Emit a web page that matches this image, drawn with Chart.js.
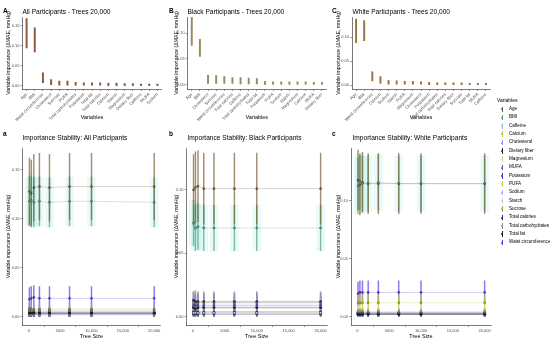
<!DOCTYPE html>
<html>
<head>
<meta charset="utf-8">
<script src="https://cdn.jsdelivr.net/npm/chart.js@4.4.1/dist/chart.umd.min.js"></script>
<style>
  html, body { margin: 0; padding: 0; background: #fff; }
  #fig { position: relative; width: 550px; height: 341px; overflow: hidden; font-family: 'Liberation Sans', Arial, sans-serif; }
  #fig canvas { position: absolute; }
  .tag { position: absolute; font-weight: bold; font-size: 6.5px; line-height: 1; color: #000; }
  .ttl { position: absolute; font-size: 6.6px; line-height: 1; color: #000; white-space: nowrap; }
  #legend { position: absolute; left: 497px; top: 97px; color: #000; }
  #legend .head { font-size: 5px; line-height: 6px; margin-bottom: 2px; }
  #legend .item { position: relative; height: 8.33px; font-size: 4.6px; line-height: 8.33px; white-space: nowrap; padding-left: 12px; }
  #legend .bar { position: absolute; left: 4.5px; top: 1.5px; width: 0.9px; height: 5.5px; }
  #legend .dot { position: absolute; left: 3.9px; top: 3.4px; width: 2.1px; height: 2.1px; border-radius: 50%; }
</style>
</head>
<body>
<div id="fig">
  <canvas id="rankAll" width="172" height="124" style="left:0px;top:0px"></canvas>
  <canvas id="rankBlack" width="172" height="124" style="left:168px;top:0px"></canvas>
  <canvas id="rankWhite" width="170" height="124" style="left:330px;top:0px"></canvas>
  <canvas id="stabAll" width="172" height="217" style="left:0px;top:124px"></canvas>
  <canvas id="stabBlack" width="172" height="217" style="left:168px;top:124px"></canvas>
  <canvas id="stabWhite" width="170" height="217" style="left:330px;top:124px"></canvas>

  <div class="tag" style="left:3px;top:8px">A</div>
  <div class="tag" style="left:169px;top:8px">B</div>
  <div class="tag" style="left:332px;top:8px">C</div>
  <div class="tag" style="left:3px;top:131px">a</div>
  <div class="tag" style="left:169px;top:131px">b</div>
  <div class="tag" style="left:332px;top:131px">c</div>

  <div class="ttl" style="left:22.5px;top:8.5px">All Participants - Trees 20,000</div>
  <div class="ttl" style="left:187.5px;top:8.5px">Black Participants - Trees 20,000</div>
  <div class="ttl" style="left:352.5px;top:8.5px">White Participants - Trees 20,000</div>
  <div class="ttl" style="left:22.5px;top:134.5px">Importance Stability: All Participants</div>
  <div class="ttl" style="left:187.5px;top:134.5px">Importance Stability: Black Participants</div>
  <div class="ttl" style="left:352.5px;top:134.5px">Importance Stability: White Participants</div>

  <div id="legend"></div>
</div>

<script>
// legend order
const variables = ['Age', 'BMI', 'Caffeine', 'Calcium', 'Cholesterol', 'Dietary fiber', 'Magnesium',
  'MUFA', 'Potassium', 'PUFA', 'Sodium', 'Starch', 'Sucrose', 'Total calories',
  'Total carbohydrates', 'Total fat', 'Waist circumference'];
const varColors = ['#7a5f35', '#5c9c86', '#a6b8ea', '#bfc233', '#8f8fe8', '#2c2c48', '#e0d8a4',
  '#5656e6', '#3a3ad4', '#e0d23e', '#adadf2', '#d0d0f4', '#a8a83c', '#2828a6',
  '#9090b4', '#1e1e1e', '#5a3ce2'];

// top row: ranked importance at 20,000 trees (low / high)
const allOrder = ['Age', 'BMI', 'Waist circumference', 'Cholesterol', 'Sucrose', 'PUFA',
  'Total carbohydrates', 'Potassium', 'Total fat', 'Total calories', 'Calcium', 'Starch',
  'Magnesium', 'Dietary fiber', 'Caffeine', 'MUFA', 'Sodium'];
const allLow = [0.095, 0.085, 0.008, 0.003, 0.002, 0.002, 0.002, 0.002, 0.002, 0.002, 0.001, 0.001, 0.001, 0.001, 0.001, 0.001, 0.001];
const allHigh = [0.168, 0.145, 0.033, 0.016, 0.012, 0.012, 0.009, 0.008, 0.008, 0.008, 0.007, 0.007, 0.006, 0.006, 0.005, 0.005, 0.005];

const blackOrder = ['Age', 'BMI', 'Cholesterol', 'Sucrose', 'Waist circumference', 'Total calories',
  'Caffeine', 'Total carbohydrates', 'Total fat', 'Potassium', 'PUFA', 'Sodium', 'Starch',
  'Magnesium', 'Calcium', 'MUFA', 'Dietary fiber'];
const blackLow = [0.076, 0.055, 0.003, 0.003, 0.003, 0.003, 0.002, 0.002, 0.002, 0.001, 0.001, 0.001, 0.001, 0.001, 0.001, 0.001, 0.001];
const blackHigh = [0.132, 0.088, 0.019, 0.018, 0.016, 0.014, 0.014, 0.013, 0.012, 0.007, 0.006, 0.006, 0.006, 0.006, 0.006, 0.005, 0.005];

const whiteOrder = ['Age', 'BMI', 'Waist circumference', 'Calcium', 'Sodium', 'Starch', 'PUFA',
  'Magnesium', 'Cholesterol', 'Potassium', 'Total carbohydrates', 'Total calories',
  'Dietary fiber', 'Sucrose', 'Total fat', 'MUFA', 'Caffeine'];
const whiteLow = [0.089, 0.093, 0.009, 0.004, 0.002, 0.002, 0.002, 0.002, 0.002, 0.001, 0.001, 0.001, 0.001, 0.001, 0.001, 0.001, 0.001];
const whiteHigh = [0.138, 0.135, 0.028, 0.018, 0.010, 0.009, 0.008, 0.008, 0.007, 0.006, 0.005, 0.005, 0.005, 0.005, 0.004, 0.004, 0.004];

// bottom row: mean importance by number of trees
const treeSizes = [100, 400, 800, 1700, 3300, 6500, 10000, 20000];
const treeTicks = [0, 5000, 10000, 15000, 20000];
const importanceTicks = [0, 0.05, 0.10, 0.15];

const allMeans = {
  'Age': [0.128, 0.126, 0.132, 0.133, 0.132, 0.133, 0.133, 0.133],
  'BMI': [0.118, 0.119, 0.117, 0.118, 0.117, 0.118, 0.118, 0.117],
  'Caffeine': [0.003, 0.003, 0.003, 0.003, 0.003, 0.003, 0.003, 0.003],
  'Calcium': [0.004, 0.004, 0.004, 0.004, 0.004, 0.004, 0.004, 0.004],
  'Cholesterol': [0.009, 0.008, 0.008, 0.008, 0.008, 0.008, 0.008, 0.008],
  'Dietary fiber': [0.003, 0.003, 0.003, 0.003, 0.003, 0.003, 0.003, 0.003],
  'Magnesium': [0.003, 0.004, 0.003, 0.003, 0.003, 0.003, 0.003, 0.003],
  'MUFA': [0.003, 0.003, 0.002, 0.003, 0.003, 0.003, 0.003, 0.003],
  'Potassium': [0.004, 0.005, 0.004, 0.004, 0.004, 0.004, 0.004, 0.004],
  'PUFA': [0.006, 0.006, 0.006, 0.006, 0.006, 0.006, 0.006, 0.006],
  'Sodium': [0.002, 0.002, 0.002, 0.002, 0.002, 0.002, 0.002, 0.002],
  'Starch': [0.004, 0.003, 0.004, 0.004, 0.004, 0.004, 0.004, 0.004],
  'Sucrose': [0.006, 0.007, 0.006, 0.006, 0.006, 0.006, 0.006, 0.006],
  'Total calories': [0.004, 0.004, 0.005, 0.004, 0.004, 0.004, 0.004, 0.004],
  'Total carbohydrates': [0.005, 0.005, 0.005, 0.005, 0.005, 0.005, 0.005, 0.005],
  'Total fat': [0.004, 0.004, 0.004, 0.004, 0.004, 0.004, 0.004, 0.004],
  'Waist circumference': [0.018, 0.019, 0.020, 0.019, 0.019, 0.019, 0.019, 0.019]
};
const allSpread = [0.034, 0.025, 0.002, 0.003, 0.006, 0.003, 0.003, 0.002, 0.004, 0.005, 0.002, 0.003, 0.005, 0.004, 0.004, 0.004, 0.012];

const blackMeans = {
  'Age': [0.100, 0.102, 0.103, 0.101, 0.101, 0.101, 0.101, 0.101],
  'BMI': [0.074, 0.070, 0.071, 0.070, 0.070, 0.070, 0.070, 0.070],
  'Caffeine': [0.008, 0.008, 0.008, 0.008, 0.008, 0.008, 0.008, 0.008],
  'Calcium': [0.003, 0.003, 0.003, 0.003, 0.003, 0.003, 0.003, 0.003],
  'Cholesterol': [0.012, 0.011, 0.011, 0.011, 0.011, 0.011, 0.011, 0.011],
  'Dietary fiber': [0.002, 0.002, 0.002, 0.002, 0.002, 0.002, 0.002, 0.002],
  'Magnesium': [0.003, 0.003, 0.003, 0.003, 0.003, 0.003, 0.003, 0.003],
  'MUFA': [0.002, 0.002, 0.002, 0.002, 0.002, 0.002, 0.002, 0.002],
  'Potassium': [0.004, 0.004, 0.004, 0.004, 0.004, 0.004, 0.004, 0.004],
  'PUFA': [0.003, 0.003, 0.003, 0.003, 0.003, 0.003, 0.003, 0.003],
  'Sodium': [0.003, 0.003, 0.003, 0.003, 0.003, 0.003, 0.003, 0.003],
  'Starch': [0.003, 0.003, 0.003, 0.003, 0.003, 0.003, 0.003, 0.003],
  'Sucrose': [0.011, 0.012, 0.011, 0.011, 0.011, 0.011, 0.011, 0.011],
  'Total calories': [0.013, 0.012, 0.012, 0.012, 0.012, 0.012, 0.012, 0.012],
  'Total carbohydrates': [0.007, 0.007, 0.007, 0.007, 0.007, 0.007, 0.007, 0.007],
  'Total fat': [0.007, 0.006, 0.007, 0.007, 0.007, 0.007, 0.007, 0.007],
  'Waist circumference': [0.009, 0.009, 0.009, 0.009, 0.009, 0.009, 0.009, 0.009]
};
const blackSpread = [0.028, 0.018, 0.006, 0.003, 0.008, 0.002, 0.003, 0.002, 0.003, 0.003, 0.003, 0.003, 0.009, 0.006, 0.005, 0.005, 0.006];

const whiteMeans = {
  'Age': [0.118, 0.114, 0.116, 0.115, 0.115, 0.115, 0.115, 0.115],
  'BMI': [0.113, 0.117, 0.115, 0.115, 0.116, 0.115, 0.115, 0.115],
  'Caffeine': [0.002, 0.002, 0.002, 0.002, 0.002, 0.002, 0.002, 0.002],
  'Calcium': [0.012, 0.012, 0.012, 0.012, 0.012, 0.012, 0.012, 0.012],
  'Cholesterol': [0.003, 0.003, 0.003, 0.003, 0.003, 0.003, 0.003, 0.003],
  'Dietary fiber': [0.002, 0.002, 0.002, 0.002, 0.002, 0.002, 0.002, 0.002],
  'Magnesium': [0.003, 0.003, 0.003, 0.003, 0.003, 0.003, 0.003, 0.003],
  'MUFA': [0.002, 0.002, 0.002, 0.002, 0.002, 0.002, 0.002, 0.002],
  'Potassium': [0.003, 0.003, 0.003, 0.003, 0.003, 0.003, 0.003, 0.003],
  'PUFA': [0.004, 0.004, 0.004, 0.004, 0.004, 0.004, 0.004, 0.004],
  'Sodium': [0.004, 0.004, 0.004, 0.004, 0.004, 0.004, 0.004, 0.004],
  'Starch': [0.004, 0.004, 0.004, 0.004, 0.004, 0.004, 0.004, 0.004],
  'Sucrose': [0.002, 0.002, 0.002, 0.002, 0.002, 0.002, 0.002, 0.002],
  'Total calories': [0.003, 0.003, 0.003, 0.003, 0.003, 0.003, 0.003, 0.003],
  'Total carbohydrates': [0.003, 0.003, 0.003, 0.003, 0.003, 0.003, 0.003, 0.003],
  'Total fat': [0.002, 0.002, 0.002, 0.002, 0.002, 0.002, 0.002, 0.002],
  'Waist circumference': [0.020, 0.021, 0.021, 0.021, 0.021, 0.021, 0.021, 0.021]
};
const whiteSpread = [0.026, 0.024, 0.002, 0.007, 0.003, 0.002, 0.003, 0.002, 0.003, 0.003, 0.003, 0.003, 0.002, 0.003, 0.003, 0.002, 0.010];

Chart.defaults.font.family = "'Liberation Sans', Arial, sans-serif";
Chart.defaults.color = '#4d4d4d';

const axisLine = { display: true, color: '#222', width: 0.6 };
const tickGrid = { drawOnChartArea: false, drawTicks: true, tickLength: 2, color: '#333', lineWidth: 0.5 };
const yTitle = {
  display: true,
  text: 'Variable importance (ΔMAE, mmHg)',
  color: '#000',
  font: { size: 5.2 },
  padding: { top: 5, bottom: 0 }
};
const setTicks = (values) => (s) => { s.ticks = values.map((v) => ({ value: v })); };

function hexToRgba(hex, a) {
  const n = parseInt(hex.slice(1), 16);
  return `rgba(${(n >> 16) & 255}, ${(n >> 8) & 255}, ${n & 255}, ${a})`;
}

function rankChart(id, labels, low, high, color, yMin, yMax, yWidth, padRight) {
  return new Chart(document.getElementById(id), {
    type: 'bar',
    data: {
      labels: labels,
      datasets: [{
        data: labels.map((_, i) => [low[i], high[i]]),
        backgroundColor: color,
        borderWidth: 0,
        barThickness: 1.3
      }]
    },
    options: {
      responsive: false,
      animation: false,
      events: [],
      layout: { padding: { left: 0, top: 17, right: padRight, bottom: 0 } },
      plugins: { legend: { display: false }, tooltip: { enabled: false } },
      scales: {
        x: {
          offset: true,
          border: axisLine,
          grid: { ...tickGrid, offset: false },
          ticks: { autoSkip: false, minRotation: 45, maxRotation: 45, padding: 1, font: { size: 4.2 } },
          title: { display: true, text: 'Variables', color: '#000', font: { size: 5.5 }, padding: { top: 0, bottom: 3 } },
          afterFit: (s) => { s.height = 35; }
        },
        y: {
          min: yMin,
          max: yMax,
          border: axisLine,
          grid: tickGrid,
          afterBuildTicks: setTicks(importanceTicks.filter((v) => v <= yMax)),
          ticks: { padding: 1, font: { size: 4 }, callback: (v) => v.toFixed(2) },
          title: yTitle,
          afterFit: (s) => { s.width = yWidth; }
        }
      }
    }
  });
}

function stabilityChart(id, means, spread, yMin, yMax, yWidth, padRight) {
  const datasets = [];
  // light band behind the BMI spread
  const bmi = variables.indexOf('BMI');
  datasets.push({
    type: 'bar',
    data: treeSizes.map((t, i) => ({ x: t, y: [means['BMI'][i] - spread[bmi], means['BMI'][i] + spread[bmi]] })),
    backgroundColor: 'rgba(110, 230, 220, 0.16)',
    borderWidth: 0,
    barThickness: 8,
    grouped: false,
    order: 30
  });
  variables.forEach((name, k) => {
    const m = means[name];
    datasets.push({
      type: 'bar',
      data: treeSizes.map((t, i) => ({ x: t, y: [m[i] - spread[k], m[i] + spread[k]] })),
      backgroundColor: hexToRgba(varColors[k], 0.7),
      borderWidth: 0,
      barThickness: 0.8,
      grouped: false,
      order: 20
    });
    datasets.push({
      type: 'line',
      data: treeSizes.map((t, i) => ({ x: t, y: m[i] })),
      borderColor: hexToRgba(varColors[k], 0.45),
      borderWidth: 0.6,
      pointRadius: 1.1,
      pointBackgroundColor: varColors[k],
      pointBorderColor: 'rgba(0,0,0,0.6)',
      pointBorderWidth: 0.4,
      order: 10 - k * 0.1
    });
  });
  return new Chart(document.getElementById(id), {
    type: 'line',
    data: { datasets: datasets },
    options: {
      responsive: false,
      animation: false,
      events: [],
      layout: { padding: { left: 0, top: 24, right: padRight, bottom: 0 } },
      plugins: { legend: { display: false }, tooltip: { enabled: false } },
      scales: {
        x: {
          type: 'linear',
          offset: false,
          min: -1000,
          max: 21000,
          border: axisLine,
          grid: tickGrid,
          afterBuildTicks: setTicks(treeTicks),
          ticks: {
            padding: 1, font: { size: 4 },
            callback: (v) => (v >= 10000 ? v.toLocaleString('en-US') : String(v))
          },
          title: { display: true, text: 'Tree Size', color: '#000', font: { size: 5.5 }, padding: { top: 0, bottom: 1 } },
          afterFit: (s) => { s.height = 16; }
        },
        y: {
          min: yMin,
          max: yMax,
          border: axisLine,
          grid: tickGrid,
          afterBuildTicks: setTicks(importanceTicks.filter((v) => v <= yMax)),
          ticks: { padding: 1, font: { size: 4 }, callback: (v) => v.toFixed(2) },
          title: yTitle,
          afterFit: (s) => { s.width = yWidth; }
        }
      }
    }
  });
}

rankChart('rankAll', allOrder, allLow, allHigh, '#8a5a3a', -0.0075, 0.172, 22.5, 10.5);
rankChart('rankBlack', blackOrder, blackLow, blackHigh, '#9a8a60', -0.008, 0.131, 19.7, 14);
rankChart('rankWhite', whiteOrder, whiteLow, whiteHigh, '#9a7440', -0.008, 0.1425, 22, 10);

stabilityChart('stabAll', allMeans, allSpread, -0.0082, 0.1724, 22.5, 11.5);
stabilityChart('stabBlack', blackMeans, blackSpread, -0.0066, 0.1331, 18.5, 13);
stabilityChart('stabWhite', whiteMeans, whiteSpread, -0.0072, 0.1458, 21, 9);

// shared legend
const legend = document.getElementById('legend');
legend.innerHTML = '<div class="head">Variables</div>' + variables.map((name, k) =>
  `<div class="item"><span class="bar" style="background:${varColors[k]}"></span>` +
  `<span class="dot" style="background:${varColors[k]}"></span>${name}</div>`).join('');
</script>
</body>
</html>
